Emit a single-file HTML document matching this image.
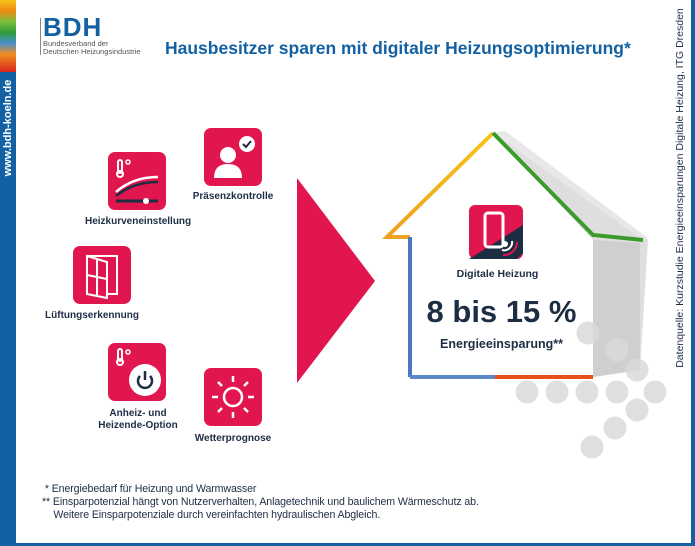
<!DOCTYPE html>
<html><head><meta charset="utf-8"><style>
body{margin:0;width:695px;height:546px;position:relative;overflow:hidden;background:#fff;font-family:"Liberation Sans",sans-serif}
.a{position:absolute}
.ic{position:absolute;width:58px;height:58px;background:#e2164f;border-radius:7px}
.lb{position:absolute;font-size:10px;font-weight:bold;color:#1d2d44;text-align:center;white-space:nowrap}
.fn{position:absolute;font-size:10.6px;color:#1d2d44;left:42px;white-space:nowrap;letter-spacing:-0.1px}
</style></head><body>
<div class="a" style="left:0;top:0;width:16px;height:546px;background:#1361a2"></div>
<div class="a" style="left:0;top:0;width:16px;height:72px;background:linear-gradient(#f5c518,#f08a12 15%,#7bbf3a 30%,#2f9a3a 45%,#4a8fd0 60%,#f09020 75%,#d8261c)"></div>
<div class="a" style="left:0;top:543px;width:695px;height:3px;background:#1361a2"></div>
<div class="a" style="left:691px;top:0;width:4px;height:546px;background:#1361a2"></div>
<div class="a" style="left:8px;top:128px;transform:translate(-50%,-50%) rotate(-90deg);color:#fff;font-size:11px;font-weight:bold;white-space:nowrap">www.bdh-koeln.de</div>
<div class="a" style="left:680px;top:188px;transform:translate(-50%,-50%) rotate(-90deg);color:#1d2d44;font-size:10.5px;white-space:nowrap">Datenquelle: Kurzstudie Energieeinsparungen Digitale Heizung, ITG Dresden</div>
<div class="a" style="left:40px;top:18px;width:1px;height:37px;background:#888"></div>
<div class="a" style="left:43px;top:12px;font-size:26px;font-weight:bold;color:#1361a2;letter-spacing:1px">BDH</div>
<div class="a" style="left:43px;top:40px;font-size:7.5px;color:#555;line-height:8px">Bundesverband der<br>Deutschen Heizungsindustrie</div>
<div class="a" style="left:165px;top:38px;font-size:17.5px;font-weight:bold;color:#1361a2;white-space:nowrap">Hausbesitzer sparen mit digitaler Heizungsoptimierung*</div>

<div class="ic" style="left:108px;top:152px"><svg width="58" height="58"><circle cx="12" cy="22" r="3" fill="none" stroke="#fff" stroke-width="2"/><rect x="10" y="8" width="4" height="13" rx="2" fill="none" stroke="#fff" stroke-width="2"/><circle cx="20" cy="10" r="2" fill="none" stroke="#fff" stroke-width="1.5"/><path d="M8 40 Q25 25 50 25" stroke="#fff" stroke-width="2.5" fill="none"/><path d="M8 44 Q25 30 50 30" stroke="#1d2d44" stroke-width="2.5" fill="none"/><line x1="8" y1="49" x2="50" y2="49" stroke="#1d2d44" stroke-width="3"/><circle cx="38" cy="49" r="3" fill="#fff"/></svg></div>
<div class="lb" style="left:85px;top:216px;width:104px">Heizkurveneinstellung</div>
<div class="ic" style="left:204px;top:128px"><svg width="58" height="58"><circle cx="24" cy="27" r="8" fill="#fff"/><path d="M10 50 Q10 36 24 36 Q38 36 38 50Z" fill="#fff"/><circle cx="43" cy="16" r="8" fill="#fff"/><path d="M39 16 l3 3 l5 -6" stroke="#1d2d44" stroke-width="2" fill="none"/></svg></div>
<div class="lb" style="left:190px;top:191px;width:86px">Präsenzkontrolle</div>
<div class="ic" style="left:73px;top:246px"><svg width="58" height="58"><rect x="14" y="10" width="30" height="38" fill="none" stroke="#fff" stroke-width="2"/><path d="M14 10 L34 16 L34 52 L14 48Z" fill="#e2164f" stroke="#fff" stroke-width="2"/><line x1="24" y1="13" x2="24" y2="50" stroke="#fff" stroke-width="2"/><line x1="14" y1="29" x2="34" y2="33" stroke="#fff" stroke-width="2"/></svg></div>
<div class="lb" style="left:40px;top:310px;width:104px">Lüftungserkennung</div>
<div class="ic" style="left:108px;top:343px"><svg width="58" height="58"><rect x="10" y="6" width="4" height="12" rx="2" fill="none" stroke="#fff" stroke-width="2"/><circle cx="12" cy="19" r="3" fill="none" stroke="#fff" stroke-width="2"/><circle cx="20" cy="9" r="2" fill="none" stroke="#fff" stroke-width="1.5"/><circle cx="37" cy="37" r="16" fill="#fff"/><path d="M32 33 A7 7 0 1 0 42 33" stroke="#1d2d44" stroke-width="2.5" fill="none"/><line x1="37" y1="28" x2="37" y2="37" stroke="#1d2d44" stroke-width="2.5"/></svg></div>
<div class="lb" style="left:96px;top:408px;width:84px;line-height:12px">Anheiz- und<br>Heizende-Option</div>
<div class="ic" style="left:204px;top:368px"><svg width="58" height="58"><circle cx="29" cy="29" r="9" fill="none" stroke="#fff" stroke-width="2.5"/><g stroke="#fff" stroke-width="2.5"><line x1="29" y1="8" x2="29" y2="14"/><line x1="29" y1="44" x2="29" y2="50"/><line x1="8" y1="29" x2="14" y2="29"/><line x1="44" y1="29" x2="50" y2="29"/><line x1="14" y1="14" x2="18" y2="18"/><line x1="40" y1="40" x2="44" y2="44"/><line x1="14" y1="44" x2="18" y2="40"/><line x1="40" y1="18" x2="44" y2="14"/></g></svg></div>
<div class="lb" style="left:190px;top:433px;width:86px">Wetterprognose</div>

<svg class="a" style="left:0;top:0" width="695" height="546">
<defs>
<linearGradient id="lt" x1="0" y1="1" x2="1" y2="0"><stop offset="0" stop-color="#f0a020"/><stop offset="1" stop-color="#f5c518"/></linearGradient>
<linearGradient id="rw" x1="0" y1="0" x2="0" y2="1"><stop offset="0" stop-color="#2f9a3a"/><stop offset=".15" stop-color="#2f9a3a"/><stop offset=".2" stop-color="#c62020"/><stop offset="1" stop-color="#e04010"/></linearGradient>
</defs>
<polygon points="297,178 375,281 297,383" fill="#e2164f"/>
<polygon points="493,133 505,131 648,240 640,370 593,377 593,240" fill="#dedede"/>
<polygon points="593,240 640,243 640,370 593,377" fill="#cfcfcf"/>
<polygon points="493,133 505,131 648,238 643,240" fill="#e8e8e8"/>
<polygon points="493,133 387,237 410,237 410,377 593,377 593,240" fill="#fff"/>
<polyline points="410,237 387,237 493,133" fill="none" stroke="url(#lt)" stroke-width="4"/>
<polyline points="493,133 593,235 643,240" fill="none" stroke="#3a9a2a" stroke-width="4"/>
<line x1="410" y1="237" x2="410" y2="377" stroke="#4a78c0" stroke-width="4"/>
<line x1="410" y1="377" x2="495" y2="377" stroke="#5a88c8" stroke-width="4"/>
<line x1="495" y1="377" x2="593" y2="377" stroke="#e8501a" stroke-width="4"/>
<line x1="593" y1="236" x2="593" y2="377" stroke="url(#rw)" stroke-width="4"/>
<g fill="#d9d9d9" fill-opacity=".85"><circle cx="588" cy="333" r="11.5"/><circle cx="617" cy="350" r="11.5"/><circle cx="637" cy="370" r="11.5"/><circle cx="527" cy="392" r="11.5"/><circle cx="557" cy="392" r="11.5"/><circle cx="587" cy="392" r="11.5"/><circle cx="617" cy="392" r="11.5"/><circle cx="655" cy="392" r="11.5"/><circle cx="637" cy="410" r="11.5"/><circle cx="615" cy="428" r="11.5"/><circle cx="592" cy="447" r="11.5"/></g>
<rect x="469" y="205" width="54" height="54" rx="6" fill="#e2164f"/>
<polygon points="523,225 523,253 517,259 469,259" fill="#1d2d44"/>
<rect x="485" y="213" width="18" height="34" rx="3" fill="none" stroke="#fff" stroke-width="3"/>
<circle cx="505" cy="244" r="3" fill="#fff"/><path d="M502 250 a8 8 0 0 0 10 -9" stroke="#fff" stroke-width="2" fill="none"/><path d="M503 255 a13 13 0 0 0 14 -13" stroke="#e2164f" stroke-width="2" fill="none"/>
</svg>
<div class="lb" style="left:450px;top:268px;width:95px;font-size:10.5px">Digitale Heizung</div>
<div class="a" style="left:410px;top:294px;width:183px;text-align:center;font-size:31px;font-weight:bold;color:#1d2d44;white-space:nowrap">8 bis 15 %</div>
<div class="a" style="left:410px;top:337px;width:183px;text-align:center;font-size:12.5px;font-weight:bold;color:#1d2d44;white-space:nowrap">Energieeinsparung**</div>

<div class="fn" style="top:483px">&nbsp;* Energiebedarf für Heizung und Warmwasser</div>
<div class="fn" style="top:496px">** Einsparpotenzial hängt von Nutzerverhalten, Anlagetechnik und baulichem Wärmeschutz ab.</div>
<div class="fn" style="top:509px">&nbsp;&nbsp;&nbsp;&nbsp;Weitere Einsparpotenziale durch vereinfachten hydraulischen Abgleich.</div>
</body></html>
